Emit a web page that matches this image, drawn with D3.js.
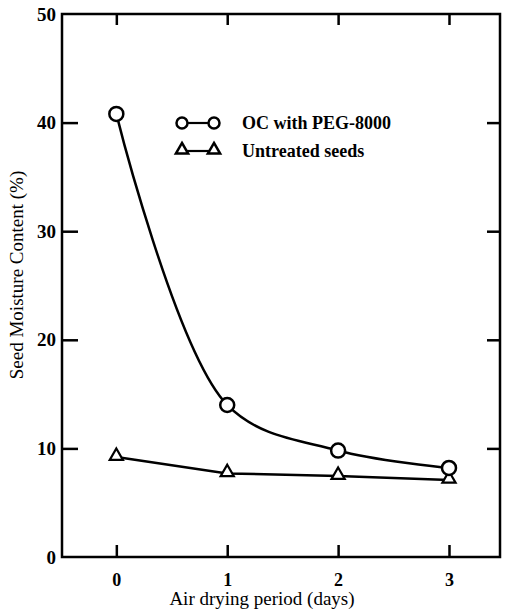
<!DOCTYPE html>
<html>
<head>
<meta charset="utf-8">
<script src="https://cdn.jsdelivr.net/npm/d3@7"></script>
<style>
  body { margin: 0; background: #fff; }
  text { font-family: "Liberation Serif", "DejaVu Serif", serif; fill: #000; }
</style>
</head>
<body>
<div id="chart"></div>
<script>
// data
var days = [0, 1, 2, 3];
var pegValues = [40.8, 14.0, 9.8, 8.2];       // OC with PEG-8000
var untreatedValues = [9.2, 7.7, 7.45, 7.1];   // Untreated seeds
var yTicks = [0, 10, 20, 30, 40, 50];
var seriesNames = ["OC with PEG-8000", "Untreated seeds"];

var w = 505, h = 610;
var margin = {top: 14, right: 5, bottom: 53, left: 62};

var svg = d3.select("#chart").append("svg")
    .attr("width", w)
    .attr("height", h);

var x = d3.scaleLinear().domain([-0.49, 3.46]).range([margin.left, w - margin.right]);
var y = d3.scaleLinear().domain([0, 50]).range([h - margin.bottom, margin.top]);

var g = svg.append("g");

// frame
g.append("rect")
    .attr("x", x.range()[0]).attr("y", y(50))
    .attr("width", x.range()[1] - x.range()[0])
    .attr("height", y(0) - y(50))
    .attr("fill", "none").attr("stroke", "#000").attr("stroke-width", 2.5);

// left axis, ticks pointing in
var yAxisL = d3.axisLeft(y).tickValues(yTicks).tickSize(-16).tickPadding(22);
g.append("g").attr("transform", "translate(" + margin.left + ",0)").call(yAxisL)
    .call(function(s){ s.select(".domain").remove(); })
    .call(function(s){
        s.selectAll(".tick line").attr("stroke-width", 2.5)
            .filter(function(d){ return d === 0 || d === 50; }).remove();
        s.selectAll(".tick text").attr("font-size", 19).attr("font-weight", "bold").attr("dx", 16);
    });

// right axis, ticks pointing in
var yAxisR = d3.axisRight(y).tickValues([10, 20, 30, 40]).tickSize(-13).tickFormat("");
g.append("g").attr("transform", "translate(" + (w - margin.right) + ",0)").call(yAxisR)
    .call(function(s){ s.select(".domain").remove(); s.selectAll(".tick line").attr("stroke-width", 2.5); });

// bottom axis
var xAxisB = d3.axisBottom(x).tickValues(days).tickSize(-12).tickPadding(16).tickFormat(d3.format("d"));
g.append("g").attr("transform", "translate(0," + y(0) + ")").call(xAxisB)
    .call(function(s){
        s.select(".domain").remove();
        s.selectAll(".tick line").attr("stroke-width", 2.5);
        s.selectAll(".tick text").attr("font-size", 18).attr("font-weight", "bold");
    });

// top axis
var xAxisT = d3.axisTop(x).tickValues(days).tickSize(-11).tickFormat("");
g.append("g").attr("transform", "translate(0," + y(50) + ")").call(xAxisT)
    .call(function(s){ s.select(".domain").remove(); s.selectAll(".tick line").attr("stroke-width", 2.5); });

// axis titles
svg.append("text")
    .attr("x", 262).attr("y", 605)
    .attr("text-anchor", "middle").attr("font-size", 19)
    .text("Air drying period (days)");

svg.append("text")
    .attr("transform", "translate(23,275) rotate(-90)")
    .attr("text-anchor", "middle").attr("font-size", 19)
    .text("Seed Moisture Content (%)");

// lines
var pegData = days.map(function(d, i){ return {x: d, y: pegValues[i]}; });
var untData = days.map(function(d, i){ return {x: d, y: untreatedValues[i]}; });

var line = d3.line()
    .x(function(d){ return x(d.x); })
    .y(function(d){ return y(d.y); })
    .curve(d3.curveCatmullRom.alpha(0.5));

g.append("path").datum(pegData).attr("d", line)
    .attr("fill", "none").attr("stroke", "#000").attr("stroke-width", 2.5);
g.append("path").datum(untData).attr("d", line.curve(d3.curveLinear))
    .attr("fill", "none").attr("stroke", "#000").attr("stroke-width", 2.5);

// markers
var tri = d3.symbol().type(d3.symbolTriangle).size(75);

g.selectAll(".tri").data(untData).enter().append("path")
    .attr("class", "tri")
    .attr("transform", function(d){ return "translate(" + x(d.x) + "," + (y(d.y) - 1) + ")"; })
    .attr("d", tri)
    .attr("fill", "#fff").attr("stroke", "#000").attr("stroke-width", 2.2);

g.selectAll(".circ").data(pegData).enter().append("circle")
    .attr("class", "circ")
    .attr("cx", function(d){ return x(d.x); })
    .attr("cy", function(d){ return y(d.y); })
    .attr("r", 7)
    .attr("fill", "#fff").attr("stroke", "#000").attr("stroke-width", 2.5);

// legend
var legend = svg.append("g").attr("transform", "translate(176,123)");
var rows = legend.selectAll("g").data(seriesNames).enter().append("g")
    .attr("transform", function(d, i){ return "translate(0," + (i * 28) + ")"; });

rows.append("line").attr("x1", 6).attr("x2", 38).attr("y1", 0).attr("y2", 0)
    .attr("stroke", "#000").attr("stroke-width", 2.2);

rows.each(function(d, i){
    var r = d3.select(this);
    [6, 38].forEach(function(px){
        if (i === 0) {
            r.append("circle").attr("cx", px).attr("cy", 0).attr("r", 5.5)
                .attr("fill", "#fff").attr("stroke", "#000").attr("stroke-width", 2.5);
        } else {
            r.append("path").attr("transform", "translate(" + px + ",-1)")
                .attr("d", d3.symbol().type(d3.symbolTriangle).size(65))
                .attr("fill", "#fff").attr("stroke", "#000").attr("stroke-width", 2.5);
        }
    });
});

rows.append("text").attr("x", 66).attr("y", 6)
    .attr("font-size", 18).attr("font-weight", "bold")
    .text(function(d){ return d; });
</script>
</body>
</html>
